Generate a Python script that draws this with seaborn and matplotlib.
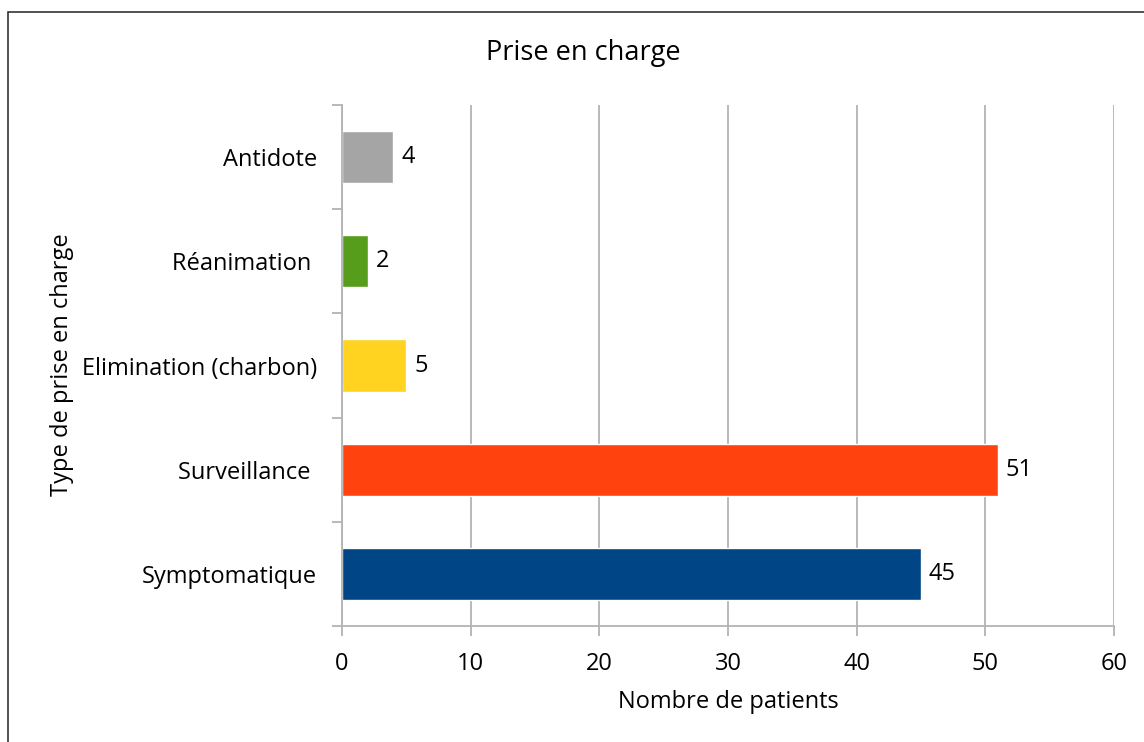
import matplotlib
matplotlib.use('Agg')
import matplotlib.pyplot as plt
import seaborn as sns
import pandas as pd
from matplotlib.patches import Rectangle

# Data
categories = ['Antidote', 'Réanimation ', 'Elimination (charbon)', 'Surveillance ', 'Symptomatique']
patients = [4, 2, 5, 51, 45]
colors = ['#A5A5A5', '#579D1C', '#FFD320', '#FF420E', '#004586']
x_ticks = [0, 10, 20, 30, 40, 50, 60]

df = pd.DataFrame({'type': categories, 'patients': patients})

sns.set_style('white')
plt.rcParams['font.family'] = ['Open Sans', 'DejaVu Sans']
plt.rcParams['text.color'] = 'black'
plt.rcParams['xtick.color'] = 'black'
plt.rcParams['ytick.color'] = 'black'

fig = plt.figure(figsize=(11.44, 7.42), dpi=100)
ax = fig.add_axes([342 / 1144, 1 - 626 / 742, (1114 - 342) / 1144, (626 - 105) / 742])

sns.barplot(data=df, x='patients', y='type', hue='type', palette=colors,
            orient='h', width=0.5, legend=False, ax=ax, saturation=1)

grid_col = '#b3b3b3'
ax.set_xlim(0, 60)
ax.set_ylim(4.5, -0.5)
ax.set_xticks(x_ticks)
ax.xaxis.grid(True, color=grid_col, linewidth=1.3)
ax.set_axisbelow(True)

# tick marks at the category boundaries on the y axis
ax.set_yticks([i - 0.5 for i in range(len(categories) + 1)], minor=True)
ax.tick_params(axis='y', which='major', left=True, length=0, pad=18, labelsize=17, labelcolor='black')
ax.tick_params(axis='y', which='minor', left=True, length=7, color=grid_col, width=1.3)
ax.tick_params(axis='x', which='major', bottom=True, length=7, color=grid_col, width=1.3, pad=12,
               labelsize=17, labelcolor='black')

for side in ['top', 'right']:
    ax.spines[side].set_visible(False)
for side in ['left', 'bottom']:
    ax.spines[side].set_color(grid_col)
    ax.spines[side].set_linewidth(1.3)

ax.set_xlabel('')
ax.set_ylabel('')

# value labels
for i, v in enumerate(patients):
    ax.text(v + 0.6, i, str(v), va='center', ha='left', fontsize=17, color='black')

fig.text(583 / 1144, 1 - 53 / 742, 'Prise en charge', ha='center', va='center', fontsize=19.5)
fig.text(728 / 1144, 1 - 702 / 742, 'Nombre de patients', ha='center', va='center', fontsize=17)
fig.text(62 / 1144, 1 - 365 / 742, 'Type de prise en charge', ha='center', va='center',
         rotation=90, fontsize=17)

# outer border of the chart area
fig.patches.append(Rectangle((8 / 1144, -0.1), 1.2, 1 - 12 / 742 + 0.1, transform=fig.transFigure,
                             fill=False, edgecolor='#333333', linewidth=1.2))

plt.savefig('out.png', dpi=100)
